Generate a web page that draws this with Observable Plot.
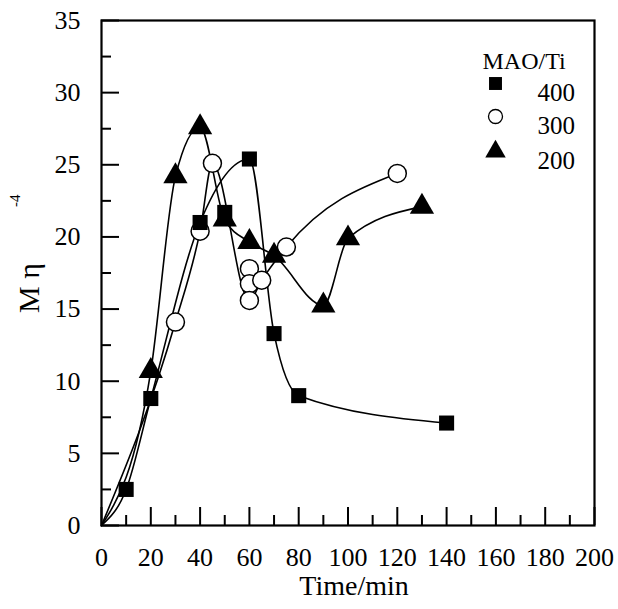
<!DOCTYPE html>
<html><head><meta charset="utf-8">
<script src="https://cdn.jsdelivr.net/npm/d3@7"></script>
<script src="https://cdn.jsdelivr.net/npm/@observablehq/plot@0.6"></script>
<style>
body{margin:0;background:#fff}
#chart svg, #chart svg text { font-family: "Liberation Serif", serif !important; }
</style>
</head><body><div id="chart"></div>
<script>
// MAO/Ti = 400 (filled squares)
const time400 = [10, 20, 40, 50, 60, 70, 80, 140];
const mw400   = [2.5, 8.8, 21.0, 21.7, 25.4, 13.3, 9.0, 7.1];
const onCurve400 = [true, true, true, false, true, true, true, true];
// MAO/Ti = 300 (open circles)
const time300 = [30, 40, 45, 60, 60, 60, 65, 75, 120];
const mw300   = [14.1, 20.4, 25.1, 17.8, 16.75, 15.6, 17.0, 19.3, 24.4];
const onCurve300 = [true, true, true, false, false, true, true, true, true];
// MAO/Ti = 200 (filled triangles)
const time200 = [20, 30, 40, 50, 60, 70, 90, 100, 130];
const mw200   = [10.7, 24.2, 27.6, 21.2, 19.65, 18.7, 15.25, 19.9, 22.1];
const onCurve200 = [true, true, true, true, true, true, true, true, true];
// all curves start at the origin
const originTime = 0, originMw = 0;

const seriesLabels = ["400", "300", "200"];
const legendTitle = "MAO/Ti";
const xMajorTicks = [0, 20, 40, 60, 80, 100, 120, 140, 160, 180, 200];
const xMinorTicks = [10, 30, 50, 70, 90, 110, 130, 150, 170, 190];
const yMajorTicks = [0, 5, 10, 15, 20, 25, 30, 35];
const yMinorTicks = [2.5, 7.5, 12.5, 17.5, 22.5, 27.5, 32.5];
const xLabel = "Time/min";
const yLabel = "M η";
const yLabelExp = "-4";

const pts = (t, m) => t.map((d, i) => ({time: d, mw: m[i]}));
const curve = (t, m, on) => [{time: originTime, mw: originMw}, ...pts(t, m).filter((d, i) => on[i])];

const d400 = pts(time400, mw400), d300 = pts(time300, mw300), d200 = pts(time200, mw200);
const c400 = curve(time400, mw400, onCurve400);
const c300 = curve(time300, mw300, onCurve300);
const c200 = curve(time200, mw200, onCurve200);

const font = "Liberation Serif";
const lineOpts = {x: "time", y: "mw", curve: "monotone-x", stroke: "black", strokeWidth: 1.6};
const legendSymbols = [
  {symbol: "square", fill: "black", stroke: "none", r: 7.3},
  {symbol: "circle", fill: "white", stroke: "black", r: 7, strokeWidth: 1.3},
  {symbol: "triangle", fill: "black", stroke: "none", r: 7.6}
];
const legendRowsDy = [63, 96, 131];

const legendMarks = seriesLabels.flatMap((lab, i) => [
  Plot.dot([lab], {frameAnchor: "top-right", dx: -99, dy: legendRowsDy[i], ...legendSymbols[i]}),
  Plot.text([lab], {frameAnchor: "top-right", dx: -57, dy: legendRowsDy[i], text: d => d, textAnchor: "start", fontSize: 25, fontFamily: font})
]);

const chart = Plot.plot({
  width: 618, height: 609,
  marginLeft: 101, marginRight: 24, marginTop: 20, marginBottom: 84,
  style: {background: "white", color: "black", fontFamily: font},
  x: {domain: [0, 200]},
  y: {domain: [0, 35]},
  marks: [
    Plot.line(c400, lineOpts),
    Plot.line(c300, lineOpts),
    Plot.line(c200, lineOpts),
    Plot.dot(d300, {x: "time", y: "mw", symbol: "circle", r: 9, fill: "white", stroke: "black", strokeWidth: 1.5}),
    Plot.dot(d200, {x: "time", y: "mw", symbol: "triangle", r: 9, fill: "black", stroke: "none"}),
    Plot.dot(d400, {x: "time", y: "mw", symbol: "square", r: 8.5, fill: "black", stroke: "none"}),
    Plot.axisX(xMajorTicks, {tickSize: -18, tickPadding: 40, strokeWidth: 2, fontSize: 26, fontFamily: font, label: null}),
    Plot.axisX(xMinorTicks, {tickSize: -10, strokeWidth: 2, text: null, label: null}),
    Plot.axisY(yMajorTicks, {tickSize: -18, tickPadding: 39, strokeWidth: 2, fontSize: 26, fontFamily: font, label: null}),
    Plot.axisY(yMinorTicks, {tickSize: -10, strokeWidth: 2, text: null, label: null}),
    Plot.frame({stroke: "black", strokeWidth: 2.2}),
    Plot.text([xLabel], {frameAnchor: "bottom", dx: 6, dy: 69, text: d => d, fontSize: 28, fontFamily: font}),
    Plot.text([yLabel], {frameAnchor: "left", dx: -72, dy: 40, rotate: -90, text: d => d, fontSize: 30, fontFamily: font}),
    Plot.text([yLabelExp], {frameAnchor: "left", dx: -86, dy: -66, rotate: -90, text: d => d, fontSize: 15, fontFamily: font}),
    Plot.text([legendTitle], {frameAnchor: "top-right", dx: -112, dy: 31, text: d => d, textAnchor: "start", fontSize: 24, fontFamily: font}),
    ...legendMarks
  ]
});
d3.select(chart).attr("font-family", font).selectAll("g, text").attr("font-family", font).style("font-family", `"${font}", serif`);
document.getElementById("chart").appendChild(chart);
</script>
</body></html>
